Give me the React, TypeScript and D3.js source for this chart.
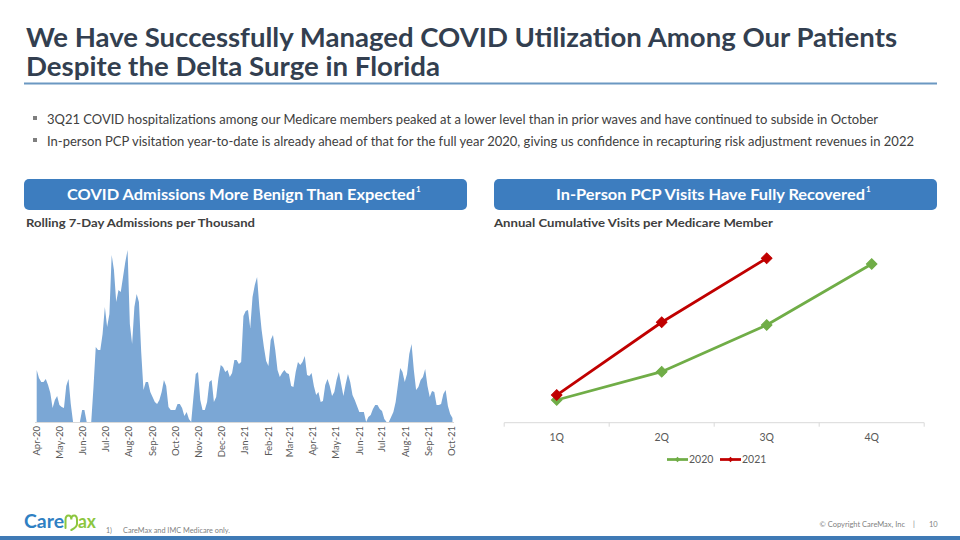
import React from 'react';
import * as d3 from 'd3';

// ---------- Data ----------
// Rolling 7-day admissions (relative units), sampled every 3 days from Apr 1, 2020
const admissionsStart = new Date(2020, 3, 1);
const admissionsStepDays = 3;
const admissions = [
  52, 44, 40, 40, 43, 37, 29, 14, 22, 26,
  17, 15, 14, 36, 43, 18, 0, 0, 0, 0,
  12, 12, 0, 0, 0, 35, 75, 72, 72, 88,
  115, 95, 108, 167, 152, 120, 132, 130, 145, 160,
  172, 98, 78, 115, 128, 120, 70, 32, 40, 40,
  30, 25, 20, 18, 22, 30, 42, 36, 15, 12,
  12, 12, 18, 18, 14, 6, 10, 3, 0, 25,
  48, 50, 22, 12, 12, 20, 40, 42, 20, 25,
  44, 57, 55, 50, 52, 45, 49, 62, 62, 58,
  60, 106, 111, 112, 94, 125, 137, 145, 115, 92,
  75, 61, 56, 82, 87, 72, 52, 45, 49, 52,
  49, 48, 36, 35, 50, 60, 57, 60, 66, 47,
  46, 49, 36, 27, 30, 20, 21, 37, 43, 36,
  26, 30, 42, 50, 38, 26, 38, 48, 40, 27,
  22, 16, 10, 10, 10, 0, 5, 7, 13, 17,
  17, 13, 11, 3, 0, 0, 5, 10, 20, 37,
  54, 50, 40, 48, 68, 78, 52, 32, 35, 42,
  45, 53, 36, 25, 31, 30, 17, 17, 18, 28,
  32, 16, 8, 4,
];
const monthTickStart = new Date(2020, 3, 1);
const monthTickEnd = new Date(2021, 9, 1);

// Annual cumulative visits per Medicare member
const quarters = ['1Q', '2Q', '3Q', '4Q'];
const visits2020 = [1.0, 2.25, 4.31, 7.0];
const visits2021 = [1.22, 4.43, 7.25];
const seriesNames = ['2020', '2021'];

const titleLines = [
  'We Have Successfully Managed COVID Utilization Among Our Patients',
  'Despite the Delta Surge in Florida',
];
const bullets = [
  '3Q21 COVID hospitalizations among our Medicare members peaked at a lower level than in prior waves and have continued to subside in October',
  'In-person PCP visitation year-to-date is already ahead of that for the full year 2020, giving us confidence in recapturing risk adjustment revenues in 2022',
];

const FONT = "Lato, 'Open Sans', 'DejaVu Sans', sans-serif";
const BLUE = '#3d7dbf';
const AREA = '#7ba7d5';
const GREEN = '#70ad47';
const RED = '#c00000';
const TEXT = '#404040';
const AXIS_TEXT = '#595959';

export default function App() {
  // ----- Left chart scales -----
  const admDates = admissions.map((_, i) => d3.timeDay.offset(admissionsStart, i * admissionsStepDays));
  const xT = d3.scaleTime().domain([monthTickStart, monthTickEnd]).range([36.7, 451.7]);
  const yA = d3.scaleLinear().domain([0, 175]).range([422, 247]);
  const areaGen = d3
    .area<number>()
    .x((_, i) => xT(admDates[i]))
    .y0(yA(0))
    .y1((d) => yA(d))
    .curve(d3.curveLinear);
  const monthTicks = d3.timeMonth.range(monthTickStart, d3.timeDay.offset(monthTickEnd, 1));
  const fmt = d3.timeFormat('%b-%y');

  // ----- Right chart scales -----
  const xQ = d3.scalePoint().domain(quarters).range([556.7, 871.7]);
  const bandStep = xQ.step();
  const yV = d3.scaleLinear().domain([0, 8]).range([422.7, 241.3]);
  const lineGen = d3
    .line<number>()
    .x((_, i) => xQ(quarters[i]) as number)
    .y((d) => yV(d));
  const diamond = d3.symbol().type(d3.symbolSquare).size(56)();
  const smallDiamond = d3.symbol().type(d3.symbolSquare).size(14)();
  const qBounds = [...quarters.map((q) => (xQ(q) as number) - bandStep / 2), (xQ(quarters[3]) as number) + bandStep / 2];

  const series = [
    { name: seriesNames[0], values: visits2020, color: GREEN },
    { name: seriesNames[1], values: visits2021, color: RED },
  ];

  return (
    <svg
      width={960}
      height={540}
      viewBox="0 0 960 540"
      style={{ position: 'absolute', left: 0, top: 0, background: '#fff' }}
      fontFamily={FONT}
    >
      <rect x={0} y={0} width={960} height={540} fill="#fff" />
      {/* Title */}
      <text x={26} y={47} fontSize={26} fontWeight={700} fill="#333f50" textLength={871} lengthAdjust="spacingAndGlyphs">
        {titleLines[0]}
      </text>
      <text x={26} y={76} fontSize={26} fontWeight={700} fill="#333f50" textLength={414} lengthAdjust="spacingAndGlyphs">
        {titleLines[1]}
      </text>
      <line x1={24} x2={937} y1={83.5} y2={83.5} stroke="#6b98c2" strokeWidth={2} />

      {/* Bullets */}
      {bullets.map((b, i) => (
        <g key={i}>
          <rect x={33} y={116 + i * 22} width={4} height={4} fill="#7f7f7f" />
          <text x={47} y={124 + i * 22} fontSize={13} fill={TEXT} textLength={i === 0 ? 831 : 867} lengthAdjust="spacingAndGlyphs">
            {b}
          </text>
        </g>
      ))}

      {/* Header boxes */}
      <rect x={24} y={179} width={443} height={31} rx={5} fill={BLUE} />
      <text x={67} y={200} fontSize={16} fontWeight={700} fill="#fff" textLength={348} lengthAdjust="spacingAndGlyphs">
        COVID Admissions More Benign Than Expected
      </text>
      <text x={416} y={192} fontSize={8} fontWeight={700} fill="#fff">1</text>

      <rect x={494} y={179} width={443} height={31} rx={5} fill={BLUE} />
      <text x={556} y={200} fontSize={16} fontWeight={700} fill="#fff" textLength={309} lengthAdjust="spacingAndGlyphs">
        In-Person PCP Visits Have Fully Recovered
      </text>
      <text x={866} y={192} fontSize={8} fontWeight={700} fill="#fff">1</text>

      {/* Subtitles */}
      <text x={26} y={227} fontSize={12} fontWeight={700} fill={TEXT} textLength={229} lengthAdjust="spacingAndGlyphs">
        Rolling 7-Day Admissions per Thousand
      </text>
      <text x={494} y={227} fontSize={12} fontWeight={700} fill={TEXT} textLength={279} lengthAdjust="spacingAndGlyphs">
        Annual Cumulative Visits per Medicare Member
      </text>

      {/* Left chart: area */}
      <line x1={35} x2={454} y1={yA(0) + 0.5} y2={yA(0) + 0.5} stroke="#d9d9d9" strokeWidth={1} />
      <path d={areaGen(admissions) || ''} fill={AREA} stroke="none" />
      {monthTicks.map((m, i) => (
        <text
          key={i}
          transform={`translate(${xT(m)},${426}) rotate(-90)`}
          textAnchor="end"
          dy="0.35em"
          fontSize={9.5}
          fill={AXIS_TEXT}
        >
          {fmt(m)}
        </text>
      ))}

      {/* Right chart: lines */}
      <line x1={qBounds[0]} x2={qBounds[4]} y1={yV(0)} y2={yV(0)} stroke="#d9d9d9" strokeWidth={1} />
      {qBounds.map((bx, i) => (
        <line key={i} x1={bx} x2={bx} y1={yV(0)} y2={yV(0) + 4} stroke="#d9d9d9" strokeWidth={1} />
      ))}
      {quarters.map((q) => (
        <text key={q} x={xQ(q)} y={441} textAnchor="middle" fontSize={10.5} fill={AXIS_TEXT}>
          {q}
        </text>
      ))}
      {series.map((s) => (
        <g key={s.name}>
          <path d={lineGen(s.values) || ''} fill="none" stroke={s.color} strokeWidth={2.75} strokeLinejoin="round" />
          {s.values.map((v, i) => (
            <path
              key={i}
              d={diamond || ''}
              transform={`translate(${xQ(quarters[i])},${yV(v)}) rotate(45)`}
              fill={s.color}
              stroke={s.color}
              strokeWidth={1}
            />
          ))}
        </g>
      ))}

      {/* Legend */}
      {series.map((s, i) => {
        const lx = 667 + i * 53;
        return (
          <g key={s.name}>
            <line x1={lx} x2={lx + 21} y1={459.5} y2={459.5} stroke={s.color} strokeWidth={2.75} />
            <path d={smallDiamond || ''} transform={`translate(${lx + 10.5},459.5) rotate(45)`} fill={s.color} />
            <text x={lx + 22} y={463} fontSize={10.5} fill={AXIS_TEXT}>
              {s.name}
            </text>
          </g>
        );
      })}

      {/* Footer */}
      <text x={24} y={528} fontSize={19} fontWeight={700} fill="#2f80c3" textLength={40} lengthAdjust="spacingAndGlyphs">
        Care
      </text>
      <path
        d="M65.5,528 L65.5,520 Q65.5,515.5 68.5,515.5 Q71.3,515.5 71.3,519.5 Q71.3,515.5 74.2,515.5 Q77,515.5 77,520 L77,524 Q77,527 71.3,530"
        fill="none"
        stroke="#8cc63f"
        strokeWidth={2}
        strokeLinecap="round"
      />
      <text x={78} y={528} fontSize={19} fontWeight={700} fill="#8cc63f" textLength={18} lengthAdjust="spacingAndGlyphs">
        ax
      </text>
      <text x={106} y={533} fontSize={7} fill="#7f7f7f">1)</text>
      <text x={123} y={533} fontSize={7} fill="#7f7f7f" textLength={107} lengthAdjust="spacingAndGlyphs">
        CareMax and IMC Medicare only.
      </text>
      <text x={905} y={527} fontSize={7.5} fill="#7f7f7f" textAnchor="end">
        © Copyright CareMax, Inc
      </text>
      <text x={913} y={527} fontSize={7.5} fill="#7f7f7f">|</text>
      <text x={929} y={527} fontSize={7.5} fill="#7f7f7f">10</text>
      <rect x={0} y={536} width={960} height={4} fill="#3f7ab5" />
    </svg>
  );
}
